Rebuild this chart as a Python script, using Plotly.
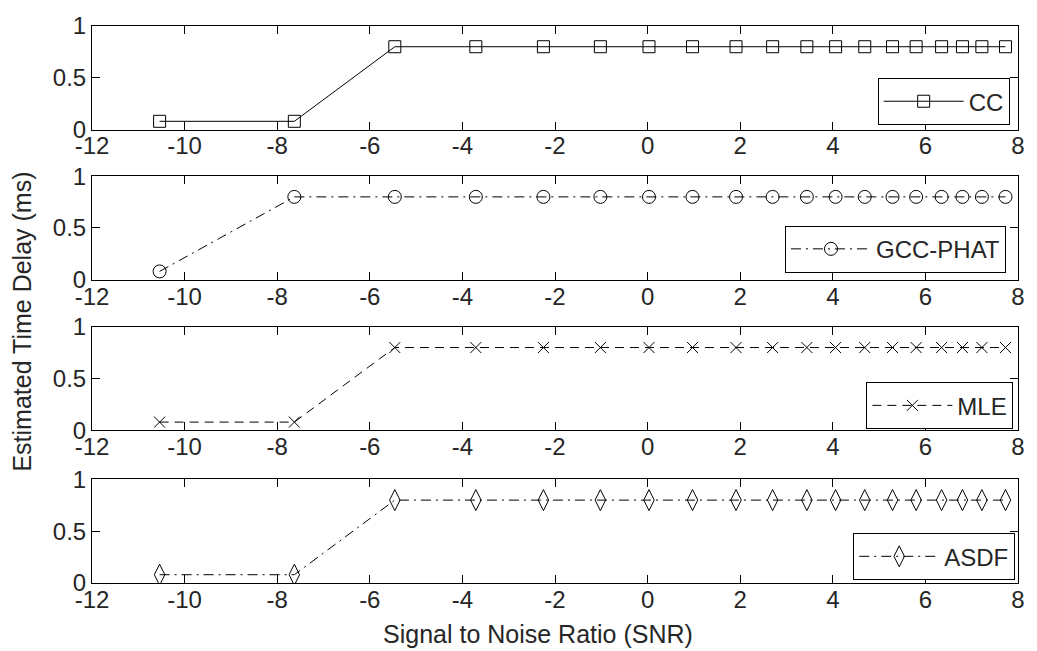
import plotly.graph_objects as go

# ---- data ----
snr = [-10.54, -7.63, -5.46, -3.71, -2.25, -1.02, 0.03, 0.97, 1.91, 2.70,
       3.44, 4.06, 4.69, 5.29, 5.80, 6.35, 6.80, 7.22, 7.73]
cc = [0.08, 0.08] + [0.8] * 17
gcc_phat = [0.08] + [0.8] * 18
mle = [0.08, 0.08] + [0.8] * 17
asdf = [0.08, 0.08] + [0.8] * 17

series_names = ["CC", "GCC-PHAT", "MLE", "ASDF"]
x_ticks = [-12, -10, -8, -6, -4, -2, 0, 2, 4, 6, 8]
x_tick_text = ["-12", "-10", "-8", "-6", "-4", "-2", "0", "2", "4", "6", "8"]
y_ticks = [0, 0.5, 1]
y_tick_text = ["0", "0.5", "1"]

# ---- styling ----
FONT = "Arial, Liberation Sans, sans-serif"
FS = 24
FS_TITLE = 25
TXT = "#262626"

styles = [
    dict(symbol="square-open", size=12, dash="solid"),
    dict(symbol="circle-open", size=13, dash="10px,5px,2px,5px"),
    dict(symbol="x-thin-open", size=11, dash="9px,6px"),
    dict(symbol="diamond-tall-open", size=15, dash="10px,5px,2px,5px"),
]
domains = [[0.814, 1.0], [0.5445, 0.7304], [0.274, 0.4599], [0.0, 0.186]]
legend_pos = [(0.991, 0.822), (0.987, 0.557), (0.995, 0.276), (0.997, 0.005)]

fig = go.Figure()
values = [cc, gcc_phat, mle, asdf]
for i, (name, yv, st) in enumerate(zip(series_names, values, styles)):
    sfx = "" if i == 0 else str(i + 1)
    fig.add_trace(go.Scatter(
        x=snr, y=yv, name=name, mode="lines+markers",
        xaxis="x" + sfx, yaxis="y" + sfx, legend="legend" + sfx,
        line=dict(color="black", width=1, dash=st["dash"]),
        marker=dict(symbol=st["symbol"], size=st["size"], color="black",
                    line=dict(color="black", width=1)),
    ))

layout = dict(
    width=1037, height=651,
    margin=dict(l=92, r=15, t=21, b=68),
    paper_bgcolor="white", plot_bgcolor="white",
    font=dict(family=FONT, size=FS, color=TXT),
    showlegend=True,
)
for i in range(4):
    sfx = "" if i == 0 else str(i + 1)
    layout["xaxis" + sfx] = dict(
        domain=[0, 1], anchor="y" + sfx, range=[-12, 8],
        tickvals=x_ticks, ticktext=x_tick_text,
        ticks="inside", ticklen=8, tickcolor="black",
        showline=True, linecolor="black", linewidth=1, mirror="ticks",
        showgrid=False, zeroline=False, ticklabelstandoff=-5,
        tickfont=dict(family=FONT, size=FS, color=TXT),
    )
    layout["yaxis" + sfx] = dict(
        domain=domains[i], anchor="x" + sfx, range=[0, 1],
        tickvals=y_ticks, ticktext=y_tick_text, ticks="inside", ticklen=8,
        tickcolor="black", showline=True, linecolor="black", linewidth=1,
        mirror="ticks", showgrid=False, zeroline=False,
        tickfont=dict(family=FONT, size=FS, color=TXT),
    )
    lx, ly = legend_pos[i]
    layout["legend" + sfx] = dict(
        x=lx, y=ly, xanchor="right", yanchor="bottom",
        bordercolor="black", borderwidth=1, bgcolor="white",
        font=dict(family=FONT, size=FS, color=TXT), itemwidth=80,
    )

layout["annotations"] = [
    dict(text="Signal to Noise Ratio (SNR)", xref="paper", yref="paper",
         x=0.4817, y=-0.0907, xanchor="center", yanchor="middle",
         showarrow=False, font=dict(family=FONT, size=FS_TITLE, color=TXT)),
    dict(text="Estimated Time Delay (ms)", xref="paper", yref="paper",
         x=-0.0753, y=0.4698, xanchor="center", yanchor="middle", textangle=-90,
         showarrow=False, font=dict(family=FONT, size=FS_TITLE, color=TXT)),
]
fig.update_layout(**layout)
fig.write_html("out.html")
